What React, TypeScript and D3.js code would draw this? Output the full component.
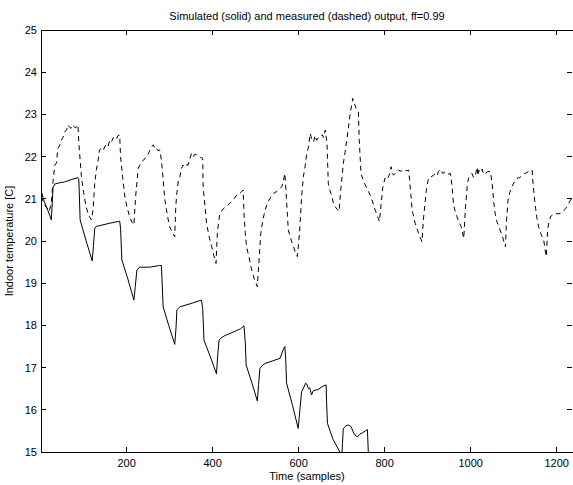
import React from "react";
import * as d3 from "d3";

const simX = [1, 8, 16, 25, 29, 33, 45, 56, 70, 87, 89, 92, 106, 120, 123, 126, 130, 136, 160, 184, 186, 189, 203, 217, 220, 224, 230, 254, 277, 281, 285, 298, 312, 315, 317, 324, 350, 374, 377, 380, 395, 409, 412, 415, 422, 429, 450, 465, 473, 476, 478, 491, 504, 507, 510, 516, 522, 540, 557, 564, 568, 570, 572, 586, 599, 603, 607, 613, 616, 619, 623, 626, 630, 634, 645, 655, 664, 665, 667, 680, 696, 698, 700, 702, 704, 710, 716, 722, 728, 733, 737, 742, 748, 755, 760, 762, 764, 778, 792, 796, 800, 830, 856, 860, 874, 888, 892, 896, 950, 955, 985, 990, 1048, 1052, 1082, 1087, 1143, 1147, 1177, 1180, 1238];
const simY = [21.2, 20.95, 20.75, 20.5, 21.26, 21.35, 21.38, 21.4, 21.45, 21.5, 21.45, 20.5, 20.0, 19.53, 19.9, 20.3, 20.35, 20.36, 20.42, 20.47, 20.3, 19.55, 19.1, 18.6, 18.9, 19.31, 19.38, 19.38, 19.42, 19.42, 18.44, 18.0, 17.55, 17.95, 18.37, 18.44, 18.52, 18.6, 18.4, 17.65, 17.25, 16.85, 17.3, 17.65, 17.72, 17.76, 17.85, 17.92, 17.99, 17.6, 17.06, 16.65, 16.21, 16.6, 16.98, 17.05, 17.1, 17.16, 17.22, 17.42, 17.5, 17.2, 16.63, 16.1, 15.56, 16.0, 16.43, 16.55, 16.63, 16.61, 16.5, 16.52, 16.35, 16.45, 16.48, 16.55, 16.59, 16.2, 15.68, 15.3, 15.0, 14.7, 14.8, 15.2, 15.56, 15.62, 15.64, 15.6, 15.45, 15.38, 15.36, 15.42, 15.45, 15.5, 15.53, 15.0, 14.7, 14.3, 13.8, 14.3, 14.7, 14.8, 14.85, 14.0, 13.5, 13.0, 13.5, 13.9, 14.0, 13.2, 12.3, 13.1, 13.2, 12.4, 11.6, 12.3, 12.4, 11.6, 10.9, 11.5, 11.6];

const measX = [1, 10, 20, 25, 29, 33, 37, 40, 44, 48, 52, 56, 60, 64, 67, 71, 74, 78, 82, 87, 89, 95, 100, 106, 112, 118, 122, 126, 130, 134, 137, 142, 146, 149, 153, 157, 161, 165, 169, 172, 176, 180, 184, 186, 191, 196, 201, 207, 212, 217, 221, 227, 235, 240, 246, 250, 254, 258, 262, 266, 269, 273, 277, 281, 285, 289, 295, 300, 306, 312, 314, 316, 320, 324, 327, 331, 334, 338, 343, 347, 351, 355, 359, 363, 368, 372, 377, 378, 382, 386, 392, 398, 403, 408, 411, 414, 417, 421, 425, 430, 435, 440, 445, 450, 456, 461, 466, 471, 473, 476, 479, 485, 491, 497, 504, 507, 512, 517, 522, 527, 533, 540, 544, 549, 555, 561, 564, 568, 571, 576, 582, 588, 592, 597, 602, 607, 611, 615, 619, 623, 627, 631, 635, 638, 642, 646, 650, 655, 658, 662, 666, 669, 673, 677, 681, 685, 690, 694, 698, 704, 708, 712, 716, 720, 723, 726, 728, 731, 735, 739, 741, 743, 745, 750, 755, 761, 768, 773, 778, 783, 788, 792, 796, 801, 805, 809, 812, 815, 818, 821, 826, 832, 838, 844, 850, 856, 858, 861, 864, 871, 879, 887, 890, 894, 897, 902, 908, 914, 918, 922, 925, 930, 935, 941, 947, 953, 957, 960, 964, 968, 973, 978, 984, 988, 992, 995, 999, 1003, 1007, 1011, 1015, 1017, 1019, 1023, 1027, 1030, 1034, 1040, 1046, 1050, 1054, 1057, 1061, 1067, 1073, 1077, 1081, 1083, 1087, 1091, 1096, 1102, 1108, 1114, 1120, 1126, 1132, 1139, 1143, 1145, 1148, 1151, 1154, 1158, 1164, 1170, 1173, 1176, 1179, 1182, 1186, 1191, 1197, 1203, 1209, 1215, 1221, 1226, 1232, 1238];
const measY = [21.05, 20.85, 20.7, 20.9, 21.41, 21.8, 21.85, 22.2, 22.25, 22.39, 22.45, 22.59, 22.62, 22.75, 22.7, 22.67, 22.75, 22.71, 22.68, 22.75, 22.32, 21.52, 21.15, 20.81, 20.6, 20.5, 20.73, 21.37, 21.7, 21.92, 22.16, 22.2, 22.15, 22.23, 22.3, 22.25, 22.39, 22.35, 22.45, 22.43, 22.4, 22.5, 22.51, 22.0, 21.5, 21.05, 20.8, 20.58, 20.45, 20.38, 21.05, 21.72, 21.88, 21.92, 22.0, 22.05, 22.15, 22.23, 22.28, 22.18, 22.2, 22.14, 22.16, 21.92, 21.45, 20.97, 20.6, 20.34, 20.2, 20.1, 20.73, 21.05, 21.4, 21.52, 21.7, 21.8, 21.75, 21.8, 21.8, 21.95, 22.08, 22.0, 22.06, 22.04, 22.0, 21.98, 21.96, 21.29, 20.85, 20.42, 20.1, 19.86, 19.65, 19.47, 20.18, 20.45, 20.66, 20.7, 20.77, 20.8, 20.85, 20.89, 20.95, 21.0, 21.09, 21.12, 21.15, 21.21, 20.66, 20.2, 19.86, 19.6, 19.31, 19.1, 18.92, 19.39, 20.18, 20.5, 20.73, 20.88, 21.01, 21.08, 21.15, 21.17, 21.22, 21.29, 21.4, 21.6, 21.13, 20.26, 20.05, 19.86, 19.75, 19.63, 20.18, 21.05, 21.52, 21.76, 22.08, 22.23, 22.55, 22.4, 22.35, 22.5, 22.39, 22.45, 22.47, 22.52, 22.45, 22.63, 22.32, 21.37, 21.2, 21.05, 20.9, 20.81, 20.75, 20.7, 21.21, 21.84, 22.1, 22.39, 22.7, 23.03, 23.2, 23.38, 23.3, 23.22, 23.1, 23.06, 22.39, 22.0, 21.6, 21.45, 21.33, 21.2, 21.05, 20.9, 20.73, 20.6, 20.46, 20.89, 21.29, 21.49, 21.45, 21.52, 21.6, 21.76, 21.6, 21.56, 21.62, 21.68, 21.65, 21.7, 21.66, 21.68, 21.45, 21.1, 20.73, 20.42, 20.18, 19.98, 20.5, 20.9, 21.21, 21.49, 21.52, 21.56, 21.6, 21.55, 21.64, 21.7, 21.6, 21.64, 21.58, 21.6, 21.29, 20.89, 20.7, 20.58, 20.45, 20.34, 20.06, 20.81, 21.29, 21.49, 21.55, 21.6, 21.5, 21.56, 21.75, 21.55, 21.68, 21.62, 21.7, 21.58, 21.6, 21.65, 21.64, 21.37, 20.89, 20.65, 20.46, 20.3, 20.14, 20.0, 19.86, 20.42, 20.97, 21.15, 21.29, 21.4, 21.49, 21.5, 21.56, 21.6, 21.63, 21.68, 21.68, 21.37, 21.05, 20.77, 20.55, 20.34, 20.15, 20.02, 19.8, 19.63, 20.26, 20.45, 20.58, 20.62, 20.66, 20.64, 20.66, 20.7, 20.77, 20.85, 20.97, 21.05];

const xTicks = [200, 400, 600, 800, 1000, 1200];
const yTicks = [15, 16, 17, 18, 19, 20, 21, 22, 23, 24, 25];
const xDomain = [1, 1238];
const yDomain = [15, 25];

const titleText = "Simulated (solid) and measured (dashed) output, ff=0.99";
const xLabel = "Time (samples)";
const yLabel = "Indoor temperature [C]";

export default function App() {
  const W = 573, H = 485;
  const L = 41, R = 573, T = 30, B = 452;
  const x = d3.scaleLinear().domain(xDomain).range([L, R]);
  const y = d3.scaleLinear().domain(yDomain).range([B, T]);
  const line = d3.line<[number, number]>().x((d) => x(d[0])).y((d) => y(d[1]));
  const simData: [number, number][] = simX.map((v, i) => [v, simY[i]]);
  const measData: [number, number][] = measX.map((v, i) => [v, measY[i]]);
  const font = "'Liberation Sans', Arial, Helvetica, sans-serif";
  const tl = 5;
  return (
    <svg width={W} height={H} style={{ position: "absolute", left: 0, top: 0, background: "#fff" }} fontFamily={font}>
      <defs>
        <clipPath id="plotclip">
          <rect x={L} y={T} width={R - L} height={B - T} />
        </clipPath>
      </defs>
      <rect x={0} y={0} width={W} height={H} fill="#fff" />
      <g clipPath="url(#plotclip)">
        <path d={line(measData) || ""} fill="none" stroke="#000" strokeWidth={1} strokeDasharray="5,4" />
        <path d={line(simData) || ""} fill="none" stroke="#000" strokeWidth={1} />
      </g>
      <g stroke="#000" strokeWidth={1} shapeRendering="crispEdges">
        <rect x={L} y={T} width={R - L} height={B - T} fill="none" />
        {xTicks.map((t) => (
          <g key={"x" + t}>
            <line x1={x(t)} x2={x(t)} y1={B} y2={B - tl} />
            <line x1={x(t)} x2={x(t)} y1={T} y2={T + tl} />
          </g>
        ))}
        {yTicks.map((t) => (
          <g key={"y" + t}>
            <line x1={L} x2={L + tl} y1={y(t)} y2={y(t)} />
            <line x1={R - 1} x2={R - 1 - tl} y1={y(t)} y2={y(t)} />
          </g>
        ))}
      </g>
      <g fontSize={11} fill="#000">
        {xTicks.map((t) => (
          <text key={"xl" + t} x={x(t)} y={B + 15} textAnchor="middle">{t}</text>
        ))}
        {yTicks.map((t) => (
          <text key={"yl" + t} x={L - 4} y={y(t) + 4} textAnchor="end">{t}</text>
        ))}
        <text x={(L + R) / 2} y={B + 28} textAnchor="middle">{xLabel}</text>
        <text x={(L + R) / 2} y={T - 10} textAnchor="middle">{titleText}</text>
        <text transform={`translate(13,${(T + B) / 2}) rotate(-90)`} textAnchor="middle">{yLabel}</text>
      </g>
    </svg>
  );
}
